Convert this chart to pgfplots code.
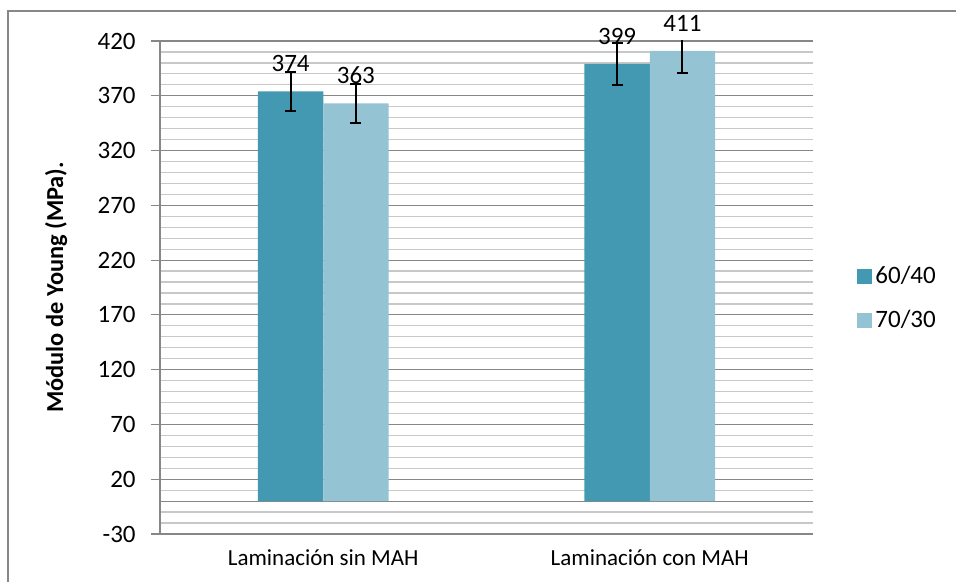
\documentclass[border=0pt]{standalone}
\usepackage{fontspec}
\setmainfont{Carlito}
\usepackage{pgfplots}
\pgfplotsset{compat=1.18}
\definecolor{dark}{HTML}{4399B1}
\definecolor{light}{HTML}{94C3D4}
\definecolor{majgrid}{HTML}{878787}
\definecolor{mingrid}{HTML}{C8C8C8}
\newcommand\fs{\fontsize{12.5}{15}\selectfont}
\newcommand\fc{\fontsize{11.5}{14}\selectfont}

\begin{document}
\begin{tikzpicture}[x=1pt,y=1pt]
\begin{axis}[
  at={(80pt,24pt)}, anchor=south west,
  width=326.5pt, height=246.5pt, scale only axis,
  /pgf/number format/assume math mode=true,
  xmin=-0.5, xmax=1.5, ymin=-30, ymax=420,
  ybar=0pt, bar width=0.2,
  xtick={0,1},
  xticklabels={Laminación sin MAH, Laminación con MAH},
  ytick={-30,20,...,420},
  minor y tick num=4,
  extra y ticks={0}, extra y tick labels={},
  extra y tick style={major tick length=0pt, major grid style={majgrid, line width=0.6pt}},
  ymajorgrids, yminorgrids,
  major grid style={majgrid, line width=0.6pt},
  minor grid style={mingrid, line width=0.6pt},
  axis x line*=bottom, axis y line*=left,
  axis line style={-, majgrid, line width=0.6pt},
  x tick style={draw=none},
  y tick style={majgrid, line width=0.6pt},
  minor y tick style={draw=none},
  tick align=outside, major tick length=4.5pt,
  yticklabel style={font=\fs, inner sep=0pt, xshift=-7.5pt},
  xticklabel style={font=\fc, inner sep=0pt, yshift=-3pt},
  every axis y label/.style={at={(axis description cs:-0.159,0.5)}, rotate=90, anchor=center, font=\fontsize{12.2}{14}\selectfont\bfseries},
  ylabel={Módulo de Young (MPa).},
  nodes near coords,
  nodes near coords style={font=\fs, black, anchor=south, inner sep=0pt, yshift=9.5pt},
  legend style={draw=none, fill=none, at={(1,0.5)}, anchor=west, xshift=22pt, yshift=-5.5pt,
    inner sep=0pt, row sep=9pt, font=\fs, nodes={inner sep=1.5pt}},
  legend cell align=left,
  legend image code/.code={\fill[#1] (0pt,-3.75pt) rectangle (7.5pt,3.75pt);},
]
\addplot[fill=dark, draw=none,
  error bars/.cd, y dir=both, y explicit,
  error bar style={black, line width=1pt},
  error mark options={black, rotate=90, mark size=2.75pt, line width=1pt}]
  coordinates {(0,374) +- (0,18) (1,399) +- (0,19)};
\addlegendentry{60/40}
\addplot[fill=light, draw=none,
  error bars/.cd, y dir=both, y explicit,
  error bar style={black, line width=1pt},
  error mark options={black, rotate=90, mark size=2.75pt, line width=1pt}]
  coordinates {(0,363) +- (0,18) (1,411) +- (0,20)};
\addlegendentry{70/30}
\end{axis}
\pgfresetboundingbox
\useasboundingbox (0,0) rectangle (478,291);
\draw[majgrid, line width=1pt] (4,-20) rectangle (500,285.5);
\end{tikzpicture}
\end{document}
